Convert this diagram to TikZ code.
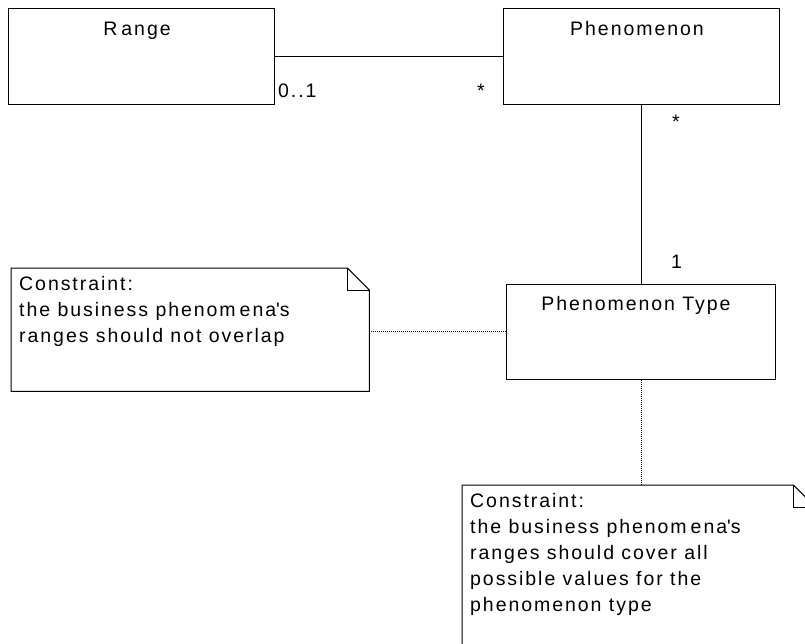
\documentclass[tikz,border=0pt]{standalone}
\usepackage{fontspec}
\setmainfont[LetterSpace=10]{Liberation Sans}
\usetikzlibrary{positioning}
\newcommand{\foldnote}[1]{%
  \draw[line width=1pt] (#1.north west) -- ([xshift=-22pt]#1.north east) -- ([yshift=-22pt]#1.north east) -- (#1.south east) -- (#1.south west) -- cycle;
  \draw[line width=1pt] ([xshift=-22pt]#1.north east) |- ([yshift=-22pt]#1.north east);}
\tikzset{
  every node/.style={font=\fontsize{19.5}{26}\selectfont},
  classbox/.style={draw,line width=1pt,minimum height=96pt,inner sep=0pt},
  notebox/.style={inner sep=0pt,anchor=north west},
  notetext/.style={inner sep=0pt,anchor=north west,align=left},
  mult/.style={inner sep=0pt},
  constraint/.style={line width=0.7pt,dash pattern=on 1pt off 1pt}
}

\begin{document}
\begin{tikzpicture}[x=1pt,y=-1pt]
    \fill[white] (0,0) rectangle (805,643);
    \useasboundingbox (0,0) rectangle (805,643);

    \node[classbox,minimum width=266pt,label={[anchor=base,xshift=-4pt,yshift=-28pt]north:R\kern4pt ange}] (range) at (141,56) {};
    \node[classbox,minimum width=276pt,label={[anchor=base,xshift=-4pt,yshift=-28pt]north:Phenomenon}] (phen) at (641,56) {};
    \node[classbox,minimum width=269pt,minimum height=95pt,label={[anchor=base,xshift=-5pt,yshift=-27pt]north:Phenomenon Type}] (type) at (641,331.5) {};

    \node[notebox,minimum width=358pt,minimum height=123pt] (note1) at (11,268) {};
    \node[notetext] (note1txt) at ([xshift=8pt,yshift=-8pt]note1.north west) {Constraint:\\the business phenom\kern4pt ena\textquotesingle s\\ranges should not overlap};
    \foldnote{note1}

    \node[notebox,minimum width=353pt,minimum height=180pt] (note2) at (462,485) {};
    \node[notetext] (note2txt) at ([xshift=8pt,yshift=-8pt]note2.north west) {Constraint:\\the business phenom\kern4pt ena\textquotesingle s\\ranges should cover all\\possible values for the\\phenomenon type};
    \foldnote{note2}

    \draw[line width=1pt] (range) -- (phen);
    \draw[line width=1pt] (phen) -- (type);
    \draw[constraint] (note1.east |- type.west) -- (type.west);
    \draw[constraint] (type.south) -- (type.south |- note2.north);

    \node[mult,anchor=base west] (m1) at (278,97.5) {0..1};
    \node[mult,anchor=base east] (m2) at (485,97) {*};
    \node[mult,anchor=base west] (m3) at (672,128.5) {*};
    \node[mult,anchor=base west] (m4) at (671,268) {1};
  \end{tikzpicture}
\end{document}
